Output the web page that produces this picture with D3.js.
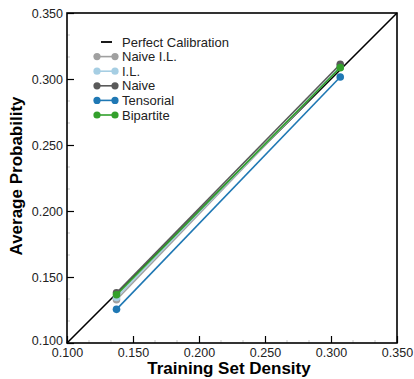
<!DOCTYPE html>
<html>
<head>
<meta charset="utf-8">
<script src="https://cdn.jsdelivr.net/npm/d3@7"></script>
<style>
body { margin: 0; background: #fff; }
text { font-family: "Liberation Sans", Arial, sans-serif; }
</style>
</head>
<body>
<script>
// data
var densities = [0.1375, 0.307];
var seriesNames = ["Naive I.L.", "I.L.", "Naive", "Tensorial", "Bipartite"];
var naiveIL   = [0.1328, 0.3090];
var il        = [0.1345, 0.3092];
var naive     = [0.1380, 0.3112];
var tensorial = [0.1255, 0.3015];
var bipartite = [0.1365, 0.3086];
var tickVals  = [0.10, 0.15, 0.20, 0.25, 0.30, 0.35];

var colors = ["#a0a0a0", "#a6cee3", "#5a5a5a", "#1f78b4", "#33a02c"];
var allSeries = [naiveIL, il, naive, tensorial, bipartite];

var width = 414, height = 379;
var margin = {left: 67, right: 17, top: 13, bottom: 36};

var svg = d3.select("body").append("svg").attr("width", width).attr("height", height);

var x = d3.scaleLinear().domain([0.1, 0.35]).range([margin.left, width - margin.right]);
var y = d3.scaleLinear().domain([0.1, 0.35]).range([height - margin.bottom, margin.top]);

// minor ticks (faint, 3 per major)
var minor = d3.range(0.1, 0.35, 0.05 / 3).filter(function(v, i){ return i % 3 != 0; });
svg.selectAll("line.mx").data(minor).enter().append("line")
  .attr("x1", function(d){ return x(d); }).attr("x2", function(d){ return x(d); })
  .attr("y1", y(0.1)).attr("y2", y(0.1) - 3)
  .attr("stroke", "#bbb").attr("stroke-width", 0.8);
svg.selectAll("line.my").data(minor).enter().append("line")
  .attr("y1", function(d){ return y(d); }).attr("y2", function(d){ return y(d); })
  .attr("x1", x(0.1)).attr("x2", x(0.1) + 3)
  .attr("stroke", "#bbb").attr("stroke-width", 0.8);

// axes with inward ticks
var xAxis = svg.append("g").attr("transform", "translate(0," + y(0.1) + ")")
  .call(d3.axisBottom(x).tickValues(tickVals).tickFormat(d3.format(".3f")).tickSize(-7).tickPadding(3));
var yAxis = svg.append("g").attr("transform", "translate(" + x(0.1) + ",0)")
  .call(d3.axisLeft(y).tickValues(tickVals).tickFormat(d3.format(".3f")).tickSize(-7).tickPadding(4));

[xAxis, yAxis].forEach(function(a){
  a.select(".domain").remove();
  a.selectAll("line").attr("stroke", "#000").attr("stroke-width", 1.2);
  a.selectAll("text").attr("font-size", 12.5).attr("fill", "#222");
});
xAxis.selectAll("text").attr("dy", "0.9em");
// lift the lowest y label a little so it clears the x label below it
yAxis.selectAll("text").filter(function(d){ return d == 0.1; }).attr("dy", "0.1em");

// perfect calibration
svg.append("line")
  .attr("x1", x(0.1)).attr("y1", y(0.1)).attr("x2", x(0.35)).attr("y2", y(0.35))
  .attr("stroke", "#000").attr("stroke-width", 1.6);

var line = d3.line()
  .x(function(d, i){ return x(densities[i]); })
  .y(function(d){ return y(d); });

allSeries.forEach(function(s, k){
  var g = svg.append("g");
  g.append("path").attr("d", line(s)).attr("fill", "none")
    .attr("stroke", colors[k]).attr("stroke-width", 1.6);
  g.selectAll("circle").data(s).enter().append("circle")
    .attr("cx", function(d, i){ return x(densities[i]); })
    .attr("cy", function(d){ return y(d); })
    .attr("r", 3.8).attr("fill", colors[k]);
});

// frame
svg.append("rect")
  .attr("x", x(0.1)).attr("y", y(0.35))
  .attr("width", x(0.35) - x(0.1)).attr("height", y(0.1) - y(0.35))
  .attr("fill", "none").attr("stroke", "#000").attr("stroke-width", 1.6);

// legend
var lg = svg.append("g").attr("transform", "translate(96,42)");
var rowH = 14.6;
lg.append("line").attr("x1", 5).attr("x2", 16).attr("y1", 0).attr("y2", 0)
  .attr("stroke", "#000").attr("stroke-width", 1.8);
lg.append("text").attr("x", 26).attr("y", 0).attr("dy", "0.35em")
  .attr("font-size", 13).attr("fill", "#222").text("Perfect Calibration");
seriesNames.forEach(function(name, k){
  var yy = (k + 1) * rowH;
  lg.append("line").attr("x1", 0).attr("x2", 20).attr("y1", yy).attr("y2", yy)
    .attr("stroke", colors[k]).attr("stroke-width", 1.6);
  lg.append("circle").attr("cx", 1).attr("cy", yy).attr("r", 3.6).attr("fill", colors[k]);
  lg.append("circle").attr("cx", 19).attr("cy", yy).attr("r", 3.6).attr("fill", colors[k]);
  lg.append("text").attr("x", 26).attr("y", yy).attr("dy", "0.35em")
    .attr("font-size", 13).attr("fill", "#222").text(name);
});

// axis titles
svg.append("text").attr("x", (x(0.1) + x(0.35)) / 2 - 3).attr("y", 374)
  .attr("text-anchor", "middle").attr("font-weight", "bold").attr("font-size", 17)
  .text("Training Set Density");
svg.append("text").attr("transform", "translate(22," + ((y(0.1) + y(0.35)) / 2 - 2) + ") rotate(-90)")
  .attr("text-anchor", "middle").attr("font-weight", "bold").attr("font-size", 17)
  .text("Average Probability");
</script>
</body>
</html>
